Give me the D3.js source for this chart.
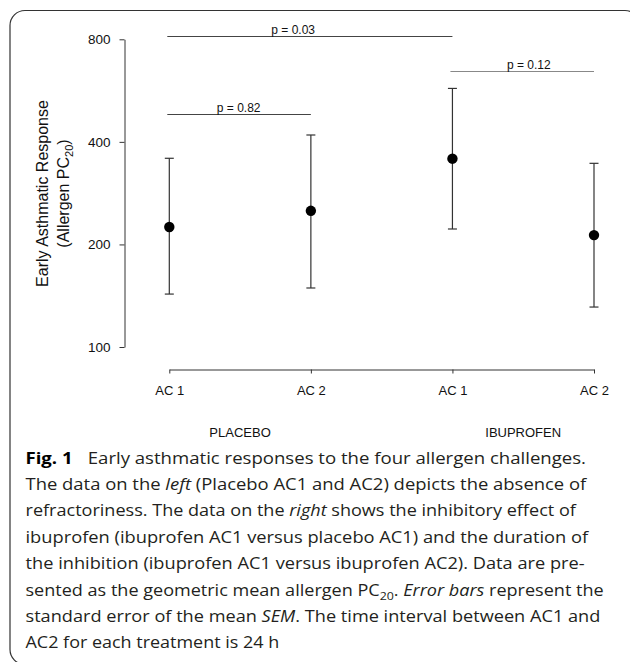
<!DOCTYPE html>
<html>
<head>
<meta charset="utf-8">
<script src="https://cdn.jsdelivr.net/npm/d3@7"></script>
<style>
  body { margin: 0; background: #fff; }
  svg { display: block; }
  .axis text { font-family: "Liberation Sans", Arial, sans-serif; fill: #111; }
  .axis path, .axis line { stroke: #333; }
</style>
</head>
<body>
<script>
//************************************************************
// Data (geometric mean allergen PC20, SEM limits)
//************************************************************
const treatments = ["PLACEBO", "IBUPROFEN"];
const challenges = ["AC 1", "AC 2", "AC 1", "AC 2"];
const groupOf = [0, 0, 1, 1];
const means = [225, 251, 357, 213];
const upper = [358, 419, 574, 346];
const lower = [143, 149, 222, 131];
const yTicks = [100, 200, 400, 800];

// significance lines: from / to are challenge indexes, level in PC20 units
const bracketFrom = [0, 0, 2];
const bracketTo = [1, 2, 3];
const bracketLevel = [482, 818, 646];
const bracketLabels = ["p = 0.82", "p = 0.03", "p = 0.12"];
const bracketLabelAt = [0.49, 0.875, 2.54];

//************************************************************
// Layout
//************************************************************
const W = 630, H = 662;

const svg = d3.select("body").append("svg")
  .attr("width", W)
  .attr("height", H);

// rounded frame round the whole figure
svg.append("rect")
  .attr("x", 10).attr("y", 10.5)
  .attr("width", 630).attr("height", 654)
  .attr("rx", 15).attr("ry", 15)
  .attr("fill", "none")
  .attr("stroke", "#333")
  .attr("stroke-width", 1.2);

const xScale = d3.scaleLinear()
  .domain([0, challenges.length - 1])
  .range([169.3, 594]);

const yScale = d3.scaleLog()
  .domain([100, 800])
  .range([347, 39.3]);

const yAxis = d3.axisLeft(yScale)
  .tickValues(yTicks)
  .tickFormat(d3.format("d"))
  .tickSize(5)
  .tickSizeOuter(0)
  .tickPadding(9);

const xAxis = d3.axisBottom(xScale)
  .tickValues(d3.range(challenges.length))
  .tickFormat(function (i) { return challenges[i]; })
  .tickSize(4)
  .tickSizeOuter(0)
  .tickPadding(12);

svg.append("g")
  .attr("class", "y axis")
  .attr("transform", "translate(124.5,0)")
  .call(yAxis)
  .selectAll("text")
  .attr("font-size", 13.5);

svg.append("g")
  .attr("class", "x axis")
  .attr("transform", "translate(0,369.5)")
  .call(xAxis)
  .selectAll("text")
  .attr("font-size", 13);

svg.selectAll(".axis .domain").attr("stroke-width", 1);

// treatment names under each pair of challenges
svg.selectAll(".group-label")
  .data(treatments)
  .enter()
  .append("text")
  .attr("class", "group-label")
  .attr("x", function (d, g) {
    const idx = d3.range(challenges.length).filter(function (i) { return groupOf[i] === g; });
    return xScale(d3.mean(idx));
  })
  .attr("y", 437)
  .attr("text-anchor", "middle")
  .attr("font-family", "Liberation Sans, Arial, sans-serif")
  .attr("font-size", 13)
  .attr("fill", "#111")
  .text(function (d) { return d; });

// y axis title, two lines
const ylab1 = svg.append("text")
  .attr("transform", "translate(48,193.5) rotate(-90)")
  .attr("text-anchor", "middle")
  .attr("font-family", "Liberation Sans, Arial, sans-serif")
  .attr("font-size", 16)
  .attr("fill", "#111")
  .text("Early Asthmatic Response");

const ylab2 = svg.append("text")
  .attr("transform", "translate(69,193.5) rotate(-90)")
  .attr("text-anchor", "middle")
  .attr("font-family", "Liberation Sans, Arial, sans-serif")
  .attr("font-size", 16)
  .attr("fill", "#111");
ylab2.append("tspan").text("(Allergen PC");
ylab2.append("tspan").attr("font-size", 11).attr("dy", 4).text("20");
ylab2.append("tspan").attr("dy", -4).text(")");

//************************************************************
// Significance lines
//************************************************************
const brackets = svg.selectAll(".bracket")
  .data(bracketLabels)
  .enter()
  .append("g")
  .attr("class", "bracket");

brackets.append("line")
  .attr("x1", function (d, i) { return xScale(bracketFrom[i]) - 2; })
  .attr("x2", function (d, i) { return xScale(bracketTo[i]); })
  .attr("y1", function (d, i) { return Math.round(yScale(bracketLevel[i])) + 0.5; })
  .attr("y2", function (d, i) { return Math.round(yScale(bracketLevel[i])) + 0.5; })
  .attr("stroke", function (d, i) { return i === 2 ? "#888" : "#444"; })
  .attr("stroke-width", 1);

brackets.append("text")
  .attr("x", function (d, i) { return xScale(bracketLabelAt[i]); })
  .attr("y", function (d, i) { return yScale(bracketLevel[i]) - 2; })
  .attr("text-anchor", "middle")
  .attr("font-family", "Liberation Sans, Arial, sans-serif")
  .attr("font-size", 12)
  .attr("fill", "#111")
  .text(function (d) { return d; });

//************************************************************
// Error bars and means
//************************************************************
const bars = svg.selectAll(".errbar")
  .data(means)
  .enter()
  .append("g")
  .attr("class", "errbar")
  .attr("stroke", "#333")
  .attr("stroke-width", 1.2);

bars.append("line")
  .attr("x1", function (d, i) { return xScale(i); })
  .attr("x2", function (d, i) { return xScale(i); })
  .attr("y1", function (d, i) { return yScale(upper[i]); })
  .attr("y2", function (d, i) { return yScale(lower[i]); });

bars.append("line")
  .attr("x1", function (d, i) { return xScale(i) - 4.5; })
  .attr("x2", function (d, i) { return xScale(i) + 4.5; })
  .attr("y1", function (d, i) { return yScale(upper[i]); })
  .attr("y2", function (d, i) { return yScale(upper[i]); });

bars.append("line")
  .attr("x1", function (d, i) { return xScale(i) - 4.5; })
  .attr("x2", function (d, i) { return xScale(i) + 4.5; })
  .attr("y1", function (d, i) { return yScale(lower[i]); })
  .attr("y2", function (d, i) { return yScale(lower[i]); });

svg.selectAll(".dot")
  .data(means)
  .enter()
  .append("circle")
  .attr("class", "dot")
  .attr("cx", function (d, i) { return xScale(i); })
  .attr("cy", function (d) { return yScale(d); })
  .attr("r", 5.2)
  .attr("fill", "#000");

//************************************************************
// Caption
//************************************************************
const captionLines = [
  [["Fig. 1", "b"], ["Early asthmatic responses to the four allergen challenges.", "gap"]],
  [["The data on the ", ""], ["left", "i"], [" (Placebo AC1 and AC2) depicts the absence of", ""]],
  [["refractoriness. The data on the ", ""], ["right", "i"], [" shows the inhibitory effect of", ""]],
  [["ibuprofen (ibuprofen AC1 versus placebo AC1) and the duration of", ""]],
  [["the inhibition (ibuprofen AC1 versus ibuprofen AC2). Data are pre-", ""]],
  [["sented as the geometric mean allergen PC", ""], ["20", "sub"], [". ", "up"], ["Error bars", "i"], [" represent the", ""]],
  [["standard error of the mean ", ""], ["SEM", "i"], [". The time interval between AC1 and", ""]],
  [["AC2 for each treatment is 24 h", ""]]
];
const captionWidths = [546, 561, 551, 563, 559.5, 578.5, 575, 254];

captionLines.forEach(function (segs, li) {
  const t = svg.append("text")
    .attr("font-family", "Open Sans, Noto Sans, sans-serif")
    .attr("font-size", 16)
    .attr("fill", "#231f20");
  segs.forEach(function (s) {
    const sp = t.append("tspan").text(s[0]);
    if (s[1] === "b") sp.attr("font-weight", "bold").attr("fill", "#000");
    if (s[1] === "i") sp.attr("font-style", "italic");
    if (s[1] === "gap") sp.attr("dx", 13);
    if (s[1] === "sub") sp.attr("font-size", 11).attr("dy", 4);
    if (s[1] === "up") sp.attr("dy", -4);
  });
  const w = t.node().getComputedTextLength();
  const baseline = 463.5 + li * 26.4;
  t.attr("transform", "translate(25.5," + baseline + ") scale(" + (captionWidths[li] / w) + ",1)");
});
</script>
</body>
</html>
